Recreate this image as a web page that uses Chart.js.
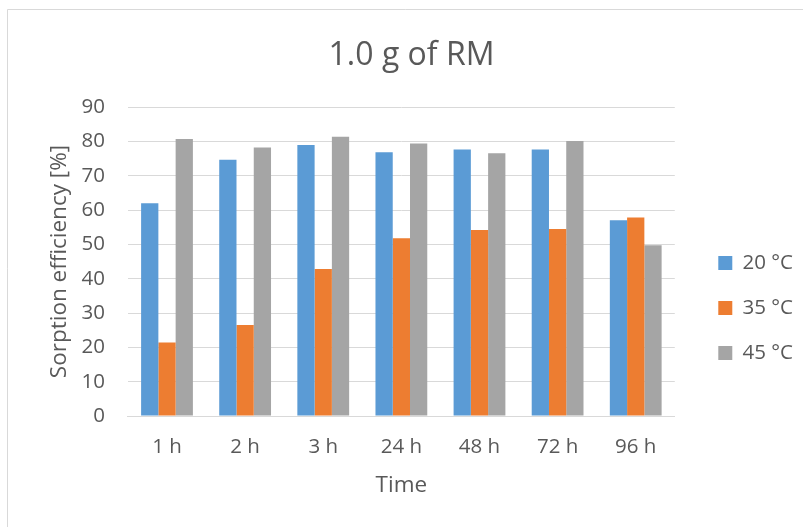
<!DOCTYPE html>
<html>
<head>
<meta charset="utf-8">
<script src="https://cdn.jsdelivr.net/npm/chart.js@4/dist/chart.umd.min.js"></script>
<style>
  html, body { margin: 0; padding: 0; background: #fff; }
  #wrap { position: absolute; left: 0; top: 0; width: 803px; height: 527px; }
</style>
</head>
<body>
<div id="wrap"><canvas id="c" width="803" height="527"></canvas></div>
<script>
const categories = ["1 h", "2 h", "3 h", "24 h", "48 h", "72 h", "96 h"];
const seriesNames = ["20 °C", "35 °C", "45 °C"];
const values20 = [62.0, 74.6, 78.9, 76.8, 77.6, 77.6, 57.0];
const values35 = [21.4, 26.5, 42.8, 51.8, 54.2, 54.5, 57.8];
const values45 = [80.7, 78.2, 81.3, 79.4, 76.5, 80.1, 49.7];
const yTicks = [0, 10, 20, 30, 40, 50, 60, 70, 80, 90];

const colors = ["#5B9BD5", "#ED7D31", "#A5A5A5"];
const textColor = "#595959";
const font = "'Open Sans', 'Liberation Sans', sans-serif";

const borderPlugin = {
  id: 'outerBorder',
  beforeDraw(chart) {
    const ctx = chart.ctx;
    ctx.save();
    ctx.fillStyle = '#fff';
    ctx.fillRect(0, 0, chart.width, chart.height);
    ctx.strokeStyle = '#d9d9d9';
    ctx.lineWidth = 1;
    ctx.beginPath();
    ctx.moveTo(7.5, chart.height);
    ctx.lineTo(7.5, 9.5);
    ctx.lineTo(chart.width, 9.5);
    ctx.stroke();
    ctx.restore();
  }
};

// empty layout box between plot area and legend (gap like the original)
const spacerPlugin = {
  id: 'legendSpacer',
  beforeInit(chart) {
    const box = {
      position: 'right', weight: 500, fullSize: false,
      options: {},
      left: 0, top: 0, right: 0, bottom: 0, width: 0, height: 0,
      isHorizontal() { return false; },
      update(maxWidth, maxHeight) {
        this.width = 19;
        this.height = maxHeight;
        return { width: this.width, height: this.height };
      },
      draw() {}
    };
    Chart.layouts.addBox(chart, box);
  }
};

new Chart(document.getElementById('c'), {
  type: 'bar',
  data: {
    labels: categories,
    datasets: [
      { label: seriesNames[0], data: values20, backgroundColor: colors[0] },
      { label: seriesNames[1], data: values35, backgroundColor: colors[1] },
      { label: seriesNames[2], data: values45, backgroundColor: colors[2] }
    ]
  },
  options: {
    responsive: false,
    animation: false,
    devicePixelRatio: 1,
    layout: { padding: { left: 20, right: 0, top: 37, bottom: 28 } },
    datasets: { bar: { categoryPercentage: 0.663, barPercentage: 1.0 } },
    plugins: {
      title: {
        display: true,
        text: '1.0 g of RM',
        color: textColor,
        font: { family: font, size: 32, weight: 'normal' },
        padding: { top: 0, bottom: 31.6 }
      },
      legend: {
        position: 'right',
        title: { display: true, text: '', font: { size: 10 }, padding: { top: 68, bottom: 0 } },
        labels: {
          color: textColor,
          font: { family: font, size: 20.5 },
          boxWidth: 14,
          boxHeight: 14,
          padding: 24.5
        }
      },
      tooltip: { enabled: false }
    },
    scales: {
      x: {
        grid: { display: false, drawTicks: false },
        border: { display: true, color: '#d9d9d9', width: 1 },
        ticks: { color: textColor, font: { family: font, size: 20.5 }, padding: 18.7 },
        title: {
          display: true, text: 'Time', color: textColor,
          font: { family: font, size: 22.5 }, padding: { top: -6, bottom: 0 }
        }
      },
      y: {
        min: 0, max: 90,
        afterBuildTicks(axis) { axis.ticks = yTicks.map(v => ({ value: v })); },
        grid: { color: '#d9d9d9', lineWidth: 1, drawTicks: false },
        border: { display: false },
        ticks: { color: textColor, font: { family: font, size: 20.5 }, padding: 23 },
        title: {
          display: true, text: 'Sorption efficiency [%]', color: textColor,
          font: { family: font, size: 22.5 }, padding: { top: 26, bottom: -14.5 }
        }
      }
    }
  },
  plugins: [borderPlugin, spacerPlugin]
});
</script>
</body>
</html>
